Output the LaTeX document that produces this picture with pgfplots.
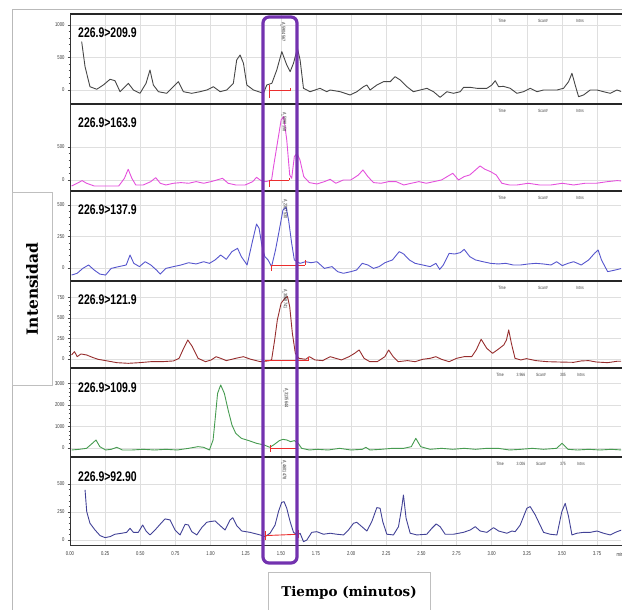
\documentclass[border=0pt]{standalone}
\usepackage{fontspec}
\setmainfont{Liberation Sans}
\newfontfamily\narrow[FakeStretch=0.75]{Liberation Sans}
\newfontfamily\dvserif{DejaVu Serif}
\usepackage{pgfplots}
\pgfplotsset{compat=1.18}

\definecolor{trA}{RGB}{70,70,70}
\definecolor{trB}{RGB}{228,80,220}
\definecolor{trC}{RGB}{85,85,205}
\definecolor{trD}{RGB}{150,45,45}
\definecolor{trE}{RGB}{70,155,80}
\definecolor{trF}{RGB}{65,65,150}
\definecolor{boxpurple}{RGB}{115,50,175}
\definecolor{integred}{RGB}{235,45,45}

\pgfplotsset{
  chrom/.style={
    scale only axis, width=551bp, xmin=0, xmax=3.92,
    anchor=south west,
    axis line style={draw=none},
    xtick={0,0.25,0.5,0.75,1,1.25,1.5,1.75,2,2.25,2.5,2.75,3,3.25,3.5,3.75},
    xticklabels={}, xtick style={draw=none},
    grid=major, major grid style={gray!25, line width=0.4bp},
    ytick pos=left, tick align=outside,
    major tick length=2.5bp, minor tick length=1.4bp,
    tick style={black!70, line width=0.45bp},
    minor y tick num=4,
    /pgf/number format/assume math mode=true,
    /pgf/number format/1000 sep={},
    yticklabel style={font=\narrow\fontsize{5.6}{6}\selectfont, black!80, xshift=0.5bp},
    every axis plot/.append style={line width=0.9bp, line join=round},
  },
  integline/.style={color=integred, line width=0.9bp, forget plot},
}

\begin{document}
\begin{tikzpicture}

% ---- 226.9>209.9
\begin{axis}[chrom, at={(70bp,506bp)}, height=90bp, ymin=-215, ymax=1169, ytick={0,500,1000}]
\addplot[trA] table {
0.083 744
0.107 359
0.142 51
0.190 11
0.237 77
0.285 165
0.320 143
0.356 -26
0.391 51
0.415 103
0.451 0
0.498 -51
0.541 103
0.569 308
0.593 77
0.629 -26
0.688 -51
0.735 51
0.771 128
0.807 -26
0.866 -51
0.925 -26
0.973 0
1.020 51
1.068 -26
1.115 0
1.162 103
1.186 462
1.210 539
1.234 411
1.258 77
1.305 0
1.376 -51
1.400 77
1.436 103
1.471 308
1.507 590
1.542 385
1.566 282
1.590 411
1.618 642
1.637 462
1.661 26
1.708 -26
1.779 26
1.827 -26
1.851 0
1.922 -26
1.993 -77
2.041 -26
2.088 51
2.112 77
2.135 0
2.183 77
2.230 128
2.278 128
2.313 205
2.349 154
2.397 51
2.443 -26
2.491 0
2.539 26
2.586 -26
2.633 -113
2.681 -26
2.728 -51
2.776 -26
2.800 41
2.847 41
2.895 26
2.966 26
3.001 77
3.025 143
3.049 51
3.084 56
3.132 26
3.179 -51
3.226 -26
3.274 26
3.322 -26
3.369 0
3.464 0
3.511 26
3.547 128
3.571 257
3.594 77
3.618 -103
3.653 -77
3.701 0
3.749 0
3.796 -26
3.843 -51
3.891 0
3.926 -26
};
\addplot[integline] coordinates {(1.42,77) (1.42,-130)};
\addplot[integline] coordinates {(1.42,0) (1.566,0)};
\addplot[integline] coordinates {(1.566,30) (1.566,-15)};
\end{axis}

% ---- 226.9>163.9
\begin{axis}[chrom, at={(70bp,419bp)}, height=87bp, ymin=-167, ymax=1151, ytick={0,500}]
\addplot[trB] table {
0.011 -91
0.051 -50
0.086 -10
0.118 -50
0.172 -91
0.253 -91
0.347 -91
0.387 25
0.414 162
0.440 25
0.468 -76
0.521 -76
0.575 -25
0.610 35
0.642 -50
0.682 -76
0.736 -50
0.790 -40
0.844 -50
0.897 -25
0.951 -50
1.004 -25
1.045 0
1.085 25
1.125 -50
1.179 -76
1.246 -76
1.300 -25
1.327 40
1.359 -10
1.394 -25
1.434 0
1.448 202
1.475 556
1.502 909
1.520 960
1.542 606
1.563 76
1.577 25
1.596 354
1.615 404
1.636 303
1.663 51
1.703 -40
1.757 -61
1.810 -25
1.851 10
1.891 -50
1.945 0
1.998 0
2.052 76
2.084 152
2.119 51
2.159 -40
2.213 -50
2.267 -25
2.320 -25
2.374 -76
2.428 -50
2.482 -25
2.535 -50
2.589 -25
2.643 0
2.683 51
2.723 101
2.764 0
2.804 51
2.844 76
2.885 152
2.917 212
2.952 162
2.992 126
3.032 76
3.072 -50
3.126 -76
3.180 -76
3.260 -50
3.341 -76
3.422 -76
3.502 -50
3.583 -76
3.664 -50
3.744 -50
3.825 -25
3.892 -10
3.926 -15
};
\addplot[integline] coordinates {(1.42,0) (1.42,-100)};
\addplot[integline] coordinates {(1.42,0) (1.56,0)};
\addplot[integline] coordinates {(1.56,35) (1.56,0)};
\end{axis}

% ---- 226.9>137.9
\begin{axis}[chrom, at={(70bp,329bp)}, height=90bp, ymin=-103, ymax=611, ytick={0,250,500}]
\addplot[trC] table {
0.011 -56
0.051 -42
0.091 -3
0.132 24
0.172 -16
0.212 -48
0.253 -56
0.293 -3
0.347 11
0.400 24
0.427 103
0.454 37
0.494 11
0.535 50
0.575 24
0.615 -16
0.642 -48
0.682 -3
0.736 11
0.790 24
0.844 42
0.897 32
0.951 50
0.992 37
1.032 64
1.072 103
1.112 69
1.152 130
1.192 156
1.219 90
1.260 24
1.300 222
1.327 349
1.345 315
1.367 169
1.386 90
1.409 64
1.434 11
1.462 143
1.489 302
1.515 460
1.537 482
1.555 381
1.577 196
1.596 64
1.636 37
1.676 50
1.715 42
1.757 50
1.810 -3
1.864 11
1.904 -29
1.945 -42
1.998 -29
2.039 -16
2.079 37
2.119 24
2.159 -3
2.199 11
2.240 42
2.294 64
2.342 130
2.374 111
2.414 64
2.455 37
2.509 24
2.562 11
2.603 37
2.630 -11
2.656 24
2.697 116
2.737 111
2.777 122
2.804 148
2.844 90
2.885 64
2.938 50
2.992 37
3.046 32
3.100 37
3.153 24
3.207 24
3.260 32
3.314 37
3.368 32
3.422 24
3.462 50
3.502 19
3.543 37
3.583 50
3.637 24
3.690 64
3.731 116
3.757 143
3.781 64
3.825 -29
3.879 -16
3.926 -3
};
\addplot[integline] coordinates {(1.436,24) (1.436,-20)};
\addplot[integline] coordinates {(1.436,24) (1.673,24)};
\addplot[integline] coordinates {(1.673,64) (1.673,24)};
\end{axis}

% ---- 226.9>121.9
\begin{axis}[chrom, at={(70bp,242bp)}, height=87bp, ymin=-110, ymax=951, ytick={0,250,500,750}]
\addplot[trD] table {
0.011 49
0.032 90
0.051 28
0.078 61
0.118 49
0.159 20
0.199 -4
0.253 -20
0.333 -45
0.414 -53
0.494 -45
0.575 -33
0.655 -33
0.736 -24
0.776 8
0.803 110
0.838 232
0.870 151
0.911 8
0.964 -33
1.004 -12
1.039 28
1.072 8
1.112 -20
1.179 8
1.233 28
1.287 -4
1.354 -33
1.409 -24
1.434 -12
1.456 232
1.475 476
1.502 680
1.529 741
1.547 761
1.563 639
1.582 313
1.603 69
1.628 8
1.676 -4
1.703 28
1.743 -12
1.797 -20
1.851 28
1.891 8
1.931 -12
1.985 28
2.025 69
2.057 110
2.092 8
2.133 -33
2.186 -33
2.240 28
2.267 110
2.299 28
2.334 -33
2.401 -20
2.455 -33
2.509 -4
2.562 8
2.603 28
2.643 -4
2.697 -33
2.750 8
2.804 28
2.858 28
2.890 110
2.925 240
2.965 130
3.006 69
3.046 118
3.086 171
3.105 232
3.121 354
3.140 191
3.166 8
3.207 -12
3.247 4
3.314 -20
3.395 -33
3.475 -37
3.583 -41
3.637 -24
3.690 -20
3.744 -37
3.825 -45
3.892 -28
3.926 -28
};
\addplot[integline] coordinates {(1.388,-24) (1.694,-24)};
\addplot[integline] coordinates {(1.694,28) (1.694,-24)};
\end{axis}

% ---- 226.9>109.9
\begin{axis}[chrom, at={(70bp,153bp)}, height=89bp, ymin=-419, ymax=3720, ytick={0,1000,2000,3000}]
\addplot[trE] table {
0.011 -93
0.065 -62
0.118 -16
0.159 217
0.185 372
0.212 62
0.253 -93
0.293 -62
0.333 31
0.373 -93
0.440 -93
0.521 -62
0.602 -93
0.682 -62
0.763 -93
0.844 -16
0.911 62
0.951 31
0.992 -93
1.018 372
1.032 1302
1.050 2542
1.072 2930
1.098 2542
1.125 1767
1.152 1070
1.179 682
1.219 450
1.273 341
1.327 217
1.381 140
1.421 31
1.448 140
1.489 341
1.515 403
1.542 372
1.569 295
1.596 341
1.623 217
1.648 -16
1.703 -93
1.757 -62
1.837 -93
1.918 -16
1.998 -93
2.079 -62
2.105 31
2.133 -93
2.213 -62
2.294 -16
2.374 -16
2.428 62
2.460 450
2.495 62
2.562 -62
2.643 -16
2.723 -62
2.804 -16
2.885 -62
2.965 -16
3.046 -16
3.126 -93
3.207 -62
3.288 -16
3.368 -62
3.462 -16
3.500 217
3.543 -62
3.610 -93
3.690 -62
3.771 -93
3.851 -62
3.926 -93
};
\addplot[integline] coordinates {(1.423,120) (1.423,-200)};
\addplot[integline] coordinates {(1.423,0) (1.613,0)};
\addplot[integline] coordinates {(1.613,120) (1.613,-60)};
\end{axis}

% ---- 226.9>92.90
\begin{axis}[chrom, at={(70bp,65bp)}, height=88bp, ymin=-45, ymax=741, ytick={0,250,500},
  xticklabels={0.00,0.25,0.50,0.75,1.00,1.25,1.50,1.75,2.00,2.25,2.50,2.75,3.00,3.25,3.50,3.75},
  xtick pos=bottom, xtick style={black!70, line width=0.45bp}, minor x tick num=4,
  xticklabel style={font=\narrow\fontsize{5.6}{6}\selectfont, black!80, yshift=-1bp}]
\addplot[trF] table {
0.107 447
0.119 253
0.142 149
0.178 89
0.214 39
0.249 21
0.285 30
0.320 51
0.368 60
0.403 68
0.427 104
0.451 68
0.486 68
0.517 134
0.541 80
0.569 45
0.605 89
0.641 140
0.676 188
0.712 179
0.747 89
0.783 45
0.819 140
0.842 134
0.866 74
0.902 45
0.937 110
0.973 158
0.996 164
1.032 170
1.068 128
1.103 89
1.139 179
1.158 199
1.186 128
1.222 80
1.281 68
1.352 45
1.388 30
1.423 60
1.459 134
1.483 253
1.506 336
1.523 342
1.542 283
1.566 164
1.590 68
1.619 45
1.637 60
1.661 -15
1.685 0
1.720 68
1.756 74
1.803 51
1.851 60
1.898 51
1.946 45
1.981 89
2.017 149
2.040 158
2.076 119
2.112 80
2.147 164
2.183 289
2.206 283
2.225 164
2.254 51
2.301 45
2.337 119
2.361 298
2.372 402
2.391 194
2.420 60
2.467 45
2.538 51
2.574 104
2.605 143
2.633 119
2.669 51
2.728 51
2.799 68
2.847 89
2.883 119
2.918 80
2.966 68
3.013 110
3.049 80
3.108 60
3.144 80
3.167 74
3.203 134
3.250 283
3.274 298
3.310 223
3.369 68
3.416 51
3.464 45
3.499 253
3.523 327
3.547 208
3.571 45
3.606 60
3.654 68
3.701 68
3.749 80
3.796 60
3.843 45
3.891 74
3.926 89
};
\addplot[integline] coordinates {(1.388,39) (1.625,51)};
\addplot[integline] coordinates {(1.388,80) (1.388,0)};
\addplot[integline] coordinates {(1.625,90) (1.625,20)};
\end{axis}

\begin{scope}[x=1bp,y=1bp]
% panel separators and axis lines
\foreach \yy in {596,506,419,329,242,153}
  \draw[black!85, line width=1.8bp] (70,\yy) -- (622,\yy);
\draw[black!80, line width=0.6bp] (70,65) -- (70,596);
\draw[black!80, line width=0.6bp] (70,65) -- (622,65);
\node[font=\narrow\fontsize{5.6}{6}\selectfont, black!80, anchor=north west] at (613,61) {min};

% outer frame
\draw[gray!55, line width=0.8bp] (12,0) -- (12,601) -- (622,601);

% channel labels
\foreach \yy/\lab in {577/226.9>209.9, 487/226.9>163.9, 400/226.9>137.9, 310/226.9>121.9, 222/226.9>109.9, 133/226.9>92.90}
  \node[anchor=west, inner sep=0pt, font=\narrow\bfseries\fontsize{14}{14}\selectfont] at (78,\yy) {\lab};

% scan info
\foreach \yy in {589,499,412,322} {
  \node[font=\narrow\fontsize{4.6}{5}\selectfont, black!75] at (502,\yy) {Time};
  \node[font=\narrow\fontsize{4.6}{5}\selectfont, black!75] at (543,\yy) {Scan\#};
  \node[font=\narrow\fontsize{4.6}{5}\selectfont, black!75] at (580,\yy) {Intns};
}
\foreach \yy/\tm/\sc in {235/3.966/305, 146/3.006/375} {
  \node[font=\narrow\fontsize{4.6}{5}\selectfont, black!75] at (500,\yy) {Time};
  \node[font=\narrow\fontsize{4.6}{5}\selectfont, black!75] at (521,\yy) {\tm};
  \node[font=\narrow\fontsize{4.6}{5}\selectfont, black!75] at (541,\yy) {Scan\#};
  \node[font=\narrow\fontsize{4.6}{5}\selectfont, black!75] at (563,\yy) {\sc};
  \node[font=\narrow\fontsize{4.6}{5}\selectfont, black!75] at (581,\yy) {Intns};
}

% peak annotations
\foreach \yy/\xx/\lab in {588/283/A\_5904567, 498/284/A\_5090158, 411/285/A\_2327530, 321/285/A\_3068741, 222/286/A\_3135644, 150/284/A\_4601478}
  \node[rotate=-90, anchor=west, inner sep=0pt, font=\narrow\fontsize{5}{5}\selectfont, black!85] at (\xx,\yy) {\lab};

% highlight box
\draw[boxpurple, line width=3.2bp, rounded corners=6bp] (263,47) rectangle (297,593);

% axis title boxes
\draw[gray!50, fill=white, line width=0.6bp] (12,225) rectangle (52,418);
\node[rotate=90, font=\dvserif\bfseries\fontsize{15.5}{16}\selectfont] at (32,321) {Intensidad};
\draw[gray!50, fill=white, line width=0.6bp] (268,-2) rectangle (430,38);
\node[font=\dvserif\bfseries\fontsize{13.5}{14}\selectfont] at (349,17) {Tiempo (minutos)};

\pgfresetboundingbox
\useasboundingbox (0,0) rectangle (622,610);
\end{scope}
\end{tikzpicture}
\end{document}
